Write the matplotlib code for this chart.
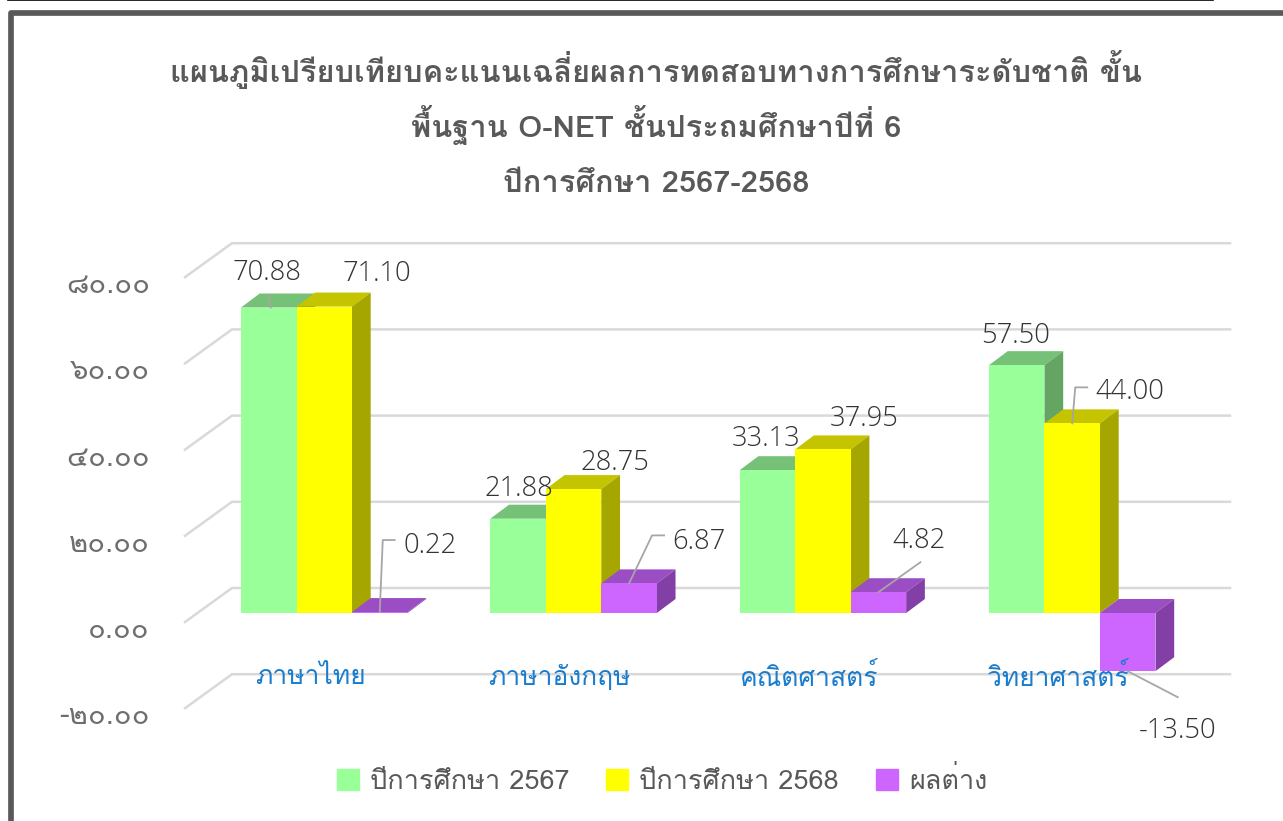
import numpy as np
import matplotlib
matplotlib.use('Agg')
import matplotlib.pyplot as plt
from matplotlib.patches import Rectangle

categories = ['ภาษาไทย', 'ภาษาอังกฤษ', 'คณิตศาสตร์', 'วิทยาศาสตร์']
series_names = ['ปีการศึกษา 2567', 'ปีการศึกษา 2568', 'ผลต่าง']
y2567 = [70.88, 21.88, 33.13, 57.50]
y2568 = [71.10, 28.75, 37.95, 44.00]
diff = [0.22, 6.87, 4.82, -13.50]
yticks = [80, 60, 40, 20, 0, -20]
ytick_labels = ['๘๐.๐๐', '๖๐.๐๐', '๔๐.๐๐', '๒๐.๐๐', '๐.๐๐', '-๒๐.๐๐']
title_lines = ['แผนภูมิเปรียบเทียบคะแนนเฉลี่ยผลการทดสอบทางการศึกษาระดับชาติ ขั้น',
               'พื้นฐาน O-NET ชั้นประถมศึกษาปีที่ 6',
               'ปีการศึกษา 2567-2568']

front = ['#99FF99', '#FFFF00', '#CC66FF']
top = ['#75C177', '#C4C400', '#9B4DC4']
side = ['#64A564', '#A6A600', '#8240A6']
thai = ['Loma', 'DejaVu Sans']
nums = ['Open Sans', 'DejaVu Sans']

W, H = 1283, 821
GROUP = 249.33   # px between categories
YU = 4.31        # px per unit
X0, Y0 = 241, 613
BAR = 55.5 / GROUP
DX, DY = 18.7 / GROUP, 14 / YU


def xp(p):
    return (p - X0) / GROUP


def yp(p):
    return (Y0 - p) / YU


fig = plt.figure(figsize=(W / 100, H / 100), dpi=100)
ax = fig.add_axes([0, 0, 1, 1])
ax.set_xlim(xp(0), xp(W))
ax.set_ylim(yp(H), yp(0))
ax.axis('off')

# frame and the line above it
ax.add_patch(Rectangle((xp(10.5), yp(H + 5)), xp(W + 5) - xp(10.5), yp(13) - yp(H + 5),
                       fill=False, ec='#595959', lw=4.1, joinstyle='round'))
ax.plot([xp(8), xp(1213)], [yp(0.5), yp(0.5)], color='black', lw=1.2)

# walls
for v in yticks:
    ax.plot([xp(185), xp(232), xp(1230)],
            [v + yp(622), v + yp(588), v + yp(588)], color='#d9d9d9', lw=1.8, zorder=1)
for v, lab in zip(yticks, ytick_labels):
    ax.text(xp(150), v + yp(630), lab, ha='right', va='center', color='#6e6e6e',
            fontsize=21, family=thai)

# bars
x = np.arange(len(categories))
z = 2
for g in x:
    for i, vals in enumerate([y2567, y2568, diff]):
        v = vals[g]
        l = g + i * BAR
        r = l + BAR
        up = max(v, 0)
        ax.fill([l, r, r + DX, l + DX], [up, up, up + DY, up + DY], color=top[i], lw=0, zorder=z)
        ax.fill([r, r + DX, r + DX, r], [0, DY, v + DY, v], color=side[i], lw=0, zorder=z)
        ax.bar(l, v, BAR, align='edge', color=front[i], lw=0, zorder=z + 0.5)
        z += 1

# data labels, offset in px from the middle of the bar top
label_pos = {(0, 0): (-2, -35), (0, 1): (53, -33), (0, 2): (50, -66),
             (1, 0): (1, -30), (1, 1): (41, -26), (1, 2): (70, -41),
             (2, 0): (-1, -31), (2, 1): (41, -30), (2, 2): (41, -51),
             (3, 0): (-1, -29), (3, 1): (58, -31), (3, 2): (50, 60)}
leaders = {(0, 0): [(0, -12), (2, 0)],
           (0, 2): [(15, -72), (3, -72), (0, 0)],
           (1, 2): [(35, -48), (23, -48), (0, 0)],
           (2, 2): [(42, -30), (0, 0)],
           (3, 1): [(15, -36), (3, -36), (0, 0)],
           (3, 2): [(50, 26), (0, 0)]}
for g in x:
    for i, vals in enumerate([y2567, y2568, diff]):
        v = vals[g]
        cx = g + (i + 0.5) * BAR
        ax.text(cx + label_pos[(g, i)][0] / GROUP, v - label_pos[(g, i)][1] / YU,
                '%.2f' % v, ha='center', va='center', color='#333333', fontsize=19.7,
                family=nums, fontweight='light', zorder=200)
        if (g, i) in leaders:
            pts = np.array(leaders[(g, i)])
            ax.plot(cx + pts[:, 0] / GROUP, v - pts[:, 1] / YU, color='#a6a6a6', lw=1.3, zorder=150)

# category labels
for g, lab in zip(x, categories):
    ax.text(g + 1.5 * BAR - 14 / GROUP, yp(677), lab, ha='center', va='center', color='#1a7ccc',
            fontsize=19, family=thai, zorder=160)

# title
for line, p in zip(title_lines, [82, 137, 192]):
    ax.text(xp(656), yp(p), line, ha='center', va='baseline', color='#595959',
            fontsize=22.2, fontweight='bold', family=thai)

handles = [Rectangle((0, 0), 1, 1, color=c) for c in front]
ax.legend(handles, series_names, loc='center', bbox_to_anchor=(662 / W, 1 - 780 / H), ncols=3,
          frameon=False, prop={'family': thai, 'size': 19.5}, labelcolor='#595959',
          handlelength=0.81, handleheight=0.81, handletextpad=0.42, columnspacing=1.35)

fig.savefig('out.png', dpi=100)
